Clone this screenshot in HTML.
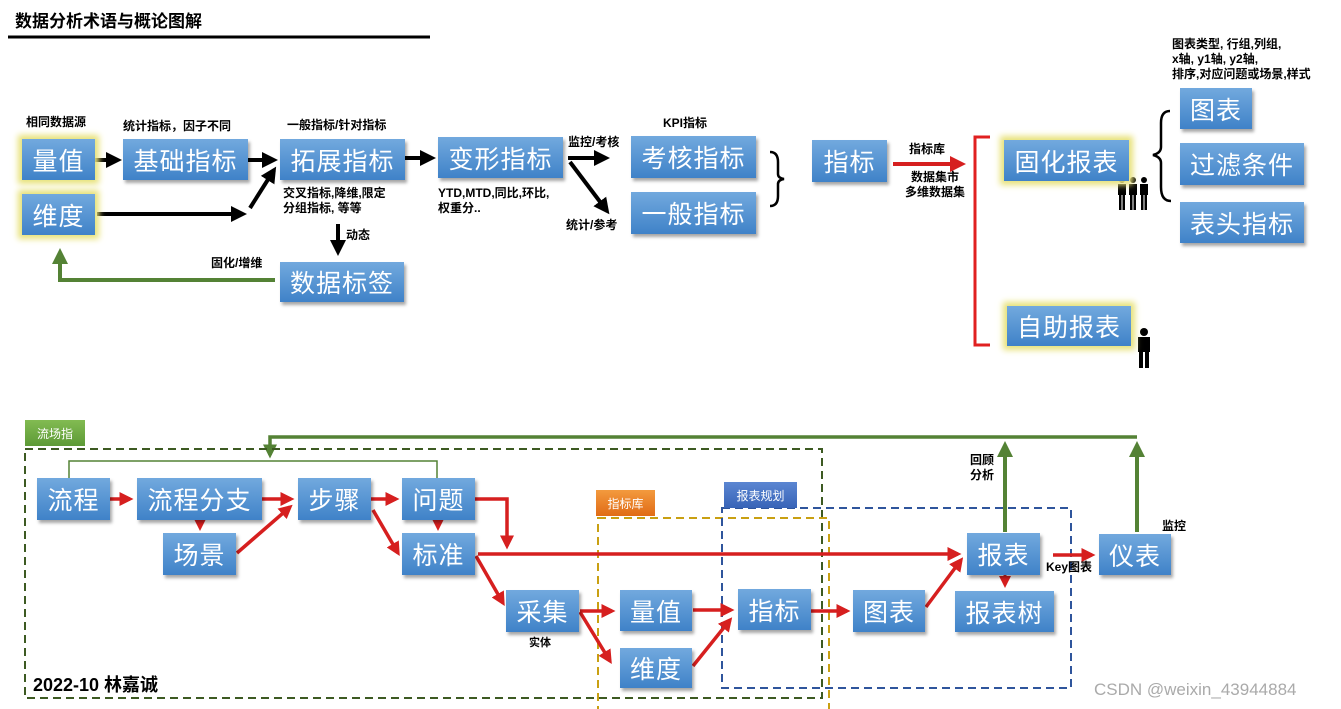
<!DOCTYPE html>
<html><head><meta charset="utf-8"><style>
body{margin:0;width:1341px;height:709px;background:#fff;position:relative;overflow:hidden;font-family:"Liberation Sans","Noto Sans CJK SC",sans-serif}
.b{position:absolute;background:linear-gradient(#72a9de,#3f82c8);color:#fff;display:flex;align-items:center;justify-content:center;font-size:25px;box-shadow:2px 3px 3px rgba(0,0,0,.35);box-sizing:border-box;letter-spacing:1px}
.g{box-shadow:0 0 6px 4px #e8e27a}
.t{position:absolute;font-size:12px;font-weight:bold;color:#000;line-height:15px;white-space:nowrap}
.tag{position:absolute;color:#fff;font-size:12px;display:flex;align-items:center;justify-content:center}
svg{position:absolute;left:0;top:0}
</style></head><body>
<svg width="1341" height="709">
<defs>
<marker id="k" markerWidth="4" markerHeight="4" refX="3" refY="2" orient="auto" markerUnits="strokeWidth"><path d="M0,0L4,2L0,4z" fill="#000"/></marker>
<marker id="r" markerWidth="4" markerHeight="4" refX="3" refY="2" orient="auto" markerUnits="strokeWidth"><path d="M0,0L4,2L0,4z" fill="#d61f1f"/></marker>
<marker id="gm" markerWidth="4" markerHeight="4" refX="3" refY="2" orient="auto" markerUnits="strokeWidth"><path d="M0,0L4,2L0,4z" fill="#548235"/></marker>
</defs>
<line x1="8" y1="37" x2="430" y2="37" stroke="#000" stroke-width="3"/>
<g stroke="#000" stroke-width="4" fill="none">
<line x1="95" y1="160" x2="118" y2="160" marker-end="url(#k)"/>
<line x1="248" y1="160" x2="274" y2="160" marker-end="url(#k)"/>
<line x1="97" y1="214" x2="243" y2="214" marker-end="url(#k)"/>
<line x1="250" y1="208" x2="274" y2="170" marker-end="url(#k)"/>
<line x1="405" y1="158" x2="432" y2="158" marker-end="url(#k)"/>
<line x1="338" y1="224" x2="338" y2="252" marker-end="url(#k)"/>
<line x1="568" y1="158" x2="606" y2="158" marker-end="url(#k)"/>
<line x1="570" y1="162" x2="607" y2="211" marker-end="url(#k)"/>
</g>
<path d="M770,152 q8,0 8,10 v12 q0,4 6,5 q-6,1 -6,5 v12 q0,10 -8,10" stroke="#000" stroke-width="2.5" fill="none"/>
<path d="M1170,111 q-9,0 -9,12 v24 q0,6 -8,8 q8,2 8,8 v24 q0,14 10,14" stroke="#000" stroke-width="2.5" fill="none"/>
<g stroke="#548235" stroke-width="4" fill="none">
<polyline points="275,280 60,280 60,252" marker-end="url(#gm)"/>
<polyline points="1137,437 270,437 270,455" stroke-width="3.5" marker-end="url(#gm)"/>
<line x1="1005" y1="532" x2="1005" y2="445" marker-end="url(#gm)"/>
<line x1="1137" y1="532" x2="1137" y2="445" marker-end="url(#gm)"/>
</g>
<polyline points="69,478 69,461 437,461 437,478" stroke="#548235" stroke-width="1.5" fill="none"/>
<line x1="893" y1="164" x2="962" y2="164" stroke="#d61f1f" stroke-width="4" marker-end="url(#r)"/>
<polyline points="990,137 975,137 975,345 990,345" stroke="#e02020" stroke-width="3" fill="none"/>
<rect x="25" y="449" width="797" height="249" fill="none" stroke="#3d5a22" stroke-width="2" stroke-dasharray="8,5"/>
<rect x="598" y="518" width="231" height="192" fill="none" stroke="#c9a012" stroke-width="2" stroke-dasharray="8,5"/>
<rect x="722" y="508" width="349" height="180" fill="none" stroke="#2f559c" stroke-width="2" stroke-dasharray="8,5"/>
<g stroke="#d61f1f" stroke-width="3.5" fill="none">
<line x1="110" y1="499" x2="130" y2="499" marker-end="url(#r)"/>
<line x1="200" y1="518" x2="200" y2="528" stroke-width="3" marker-end="url(#r)"/>
<line x1="262" y1="499" x2="291" y2="499" marker-end="url(#r)"/>
<line x1="237" y1="553" x2="290" y2="507" marker-end="url(#r)"/>
<line x1="371" y1="499" x2="396" y2="499" marker-end="url(#r)"/>
<line x1="373" y1="510" x2="398" y2="553" marker-end="url(#r)"/>
<line x1="438" y1="518" x2="438" y2="528" stroke-width="3" marker-end="url(#r)"/>
<polyline points="475,499 507,499 507,546" marker-end="url(#r)"/>
<line x1="478" y1="554" x2="958" y2="554" marker-end="url(#r)"/>
<line x1="476" y1="556" x2="503" y2="603" marker-end="url(#r)"/>
<line x1="580" y1="611" x2="612" y2="611" marker-end="url(#r)"/>
<line x1="580" y1="612" x2="610" y2="661" marker-end="url(#r)"/>
<line x1="693" y1="610" x2="731" y2="610" marker-end="url(#r)"/>
<line x1="693" y1="666" x2="730" y2="620" marker-end="url(#r)"/>
<line x1="811" y1="611" x2="847" y2="611" marker-end="url(#r)"/>
<line x1="926" y1="607" x2="961" y2="560" marker-end="url(#r)"/>
<line x1="1005" y1="575" x2="1005" y2="585" stroke-width="3" marker-end="url(#r)"/>
<line x1="1053" y1="555" x2="1092" y2="555" marker-end="url(#r)"/>
</g>
<g fill="#000">
<circle cx="1122" cy="180" r="3"/><rect x="1118" y="184" width="8" height="11"/><rect x="1119" y="194" width="2.5" height="16"/><rect x="1122.5" y="194" width="2.5" height="16"/>
<circle cx="1133" cy="180" r="3"/><rect x="1129" y="184" width="8" height="11"/><rect x="1130" y="194" width="2.5" height="16"/><rect x="1133.5" y="194" width="2.5" height="16"/>
<circle cx="1144" cy="180" r="3"/><rect x="1140" y="184" width="8" height="11"/><rect x="1141" y="194" width="2.5" height="16"/><rect x="1144.5" y="194" width="2.5" height="16"/>
<circle cx="1144" cy="332" r="4"/><rect x="1138" y="337" width="12" height="15"/><rect x="1139" y="350" width="4" height="18"/><rect x="1145" y="350" width="4" height="18"/>
</g>
</svg>
<div class="t" style="left:15px;top:12px;font-size:17px;line-height:20px">数据分析术语与概论图解</div>
<div class="b g" style="left:22px;top:139px;width:73px;height:41px">量值</div>
<div class="b g" style="left:22px;top:194px;width:73px;height:41px">维度</div>
<div class="b" style="left:123px;top:139px;width:125px;height:41px">基础指标</div>
<div class="b" style="left:280px;top:139px;width:125px;height:41px">拓展指标</div>
<div class="b" style="left:438px;top:137px;width:125px;height:41px">变形指标</div>
<div class="b" style="left:631px;top:136px;width:125px;height:42px">考核指标</div>
<div class="b" style="left:631px;top:192px;width:125px;height:42px">一般指标</div>
<div class="b" style="left:812px;top:140px;width:75px;height:42px">指标</div>
<div class="b" style="left:280px;top:262px;width:124px;height:40px">数据标签</div>
<div class="b g" style="left:1004px;top:140px;width:125px;height:41px">固化报表</div>
<div class="b g" style="left:1007px;top:306px;width:124px;height:40px">自助报表</div>
<div class="b" style="left:1180px;top:88px;width:72px;height:41px">图表</div>
<div class="b" style="left:1180px;top:143px;width:124px;height:42px">过滤条件</div>
<div class="b" style="left:1180px;top:202px;width:124px;height:41px">表头指标</div>
<div class="t" style="left:26px;top:115px">相同数据源</div>
<div class="t" style="left:123px;top:119px">统计指标，因子不同</div>
<div class="t" style="left:287px;top:118px">一般指标/针对指标</div>
<div class="t" style="left:283px;top:186px">交叉指标,降维,限定<br>分组指标, 等等</div>
<div class="t" style="left:346px;top:228px">动态</div>
<div class="t" style="left:211px;top:256px">固化/增维</div>
<div class="t" style="left:438px;top:186px">YTD,MTD,同比,环比,<br>权重分..</div>
<div class="t" style="left:568px;top:135px">监控/考核</div>
<div class="t" style="left:566px;top:218px">统计/参考</div>
<div class="t" style="left:663px;top:116px">KPI指标</div>
<div class="t" style="left:909px;top:142px">指标库</div>
<div class="t" style="left:905px;top:170px;text-align:center">数据集市<br>多维数据集</div>
<div class="t" style="left:1172px;top:37px">图表类型, 行组,列组,<br>x轴, y1轴, y2轴,<br>排序,对应问题或场景,样式</div>
<div class="tag" style="left:25px;top:420px;width:60px;height:26px;background:linear-gradient(#82bb52,#5d9a36)">流场指</div>
<div class="tag" style="left:596px;top:490px;width:59px;height:26px;background:linear-gradient(#f39a3e,#e06b16)">指标库</div>
<div class="tag" style="left:724px;top:482px;width:73px;height:26px;background:linear-gradient(#5b86d2,#3864b8)">报表规划</div>
<div class="b" style="left:37px;top:478px;width:73px;height:42px">流程</div>
<div class="b" style="left:137px;top:478px;width:125px;height:42px">流程分支</div>
<div class="b" style="left:163px;top:533px;width:73px;height:42px">场景</div>
<div class="b" style="left:298px;top:478px;width:73px;height:42px">步骤</div>
<div class="b" style="left:402px;top:478px;width:73px;height:42px">问题</div>
<div class="b" style="left:402px;top:533px;width:73px;height:42px">标准</div>
<div class="b" style="left:506px;top:590px;width:73px;height:42px">采集</div>
<div class="b" style="left:620px;top:590px;width:72px;height:41px">量值</div>
<div class="b" style="left:620px;top:648px;width:72px;height:40px">维度</div>
<div class="b" style="left:738px;top:589px;width:73px;height:41px">指标</div>
<div class="b" style="left:853px;top:590px;width:72px;height:42px">图表</div>
<div class="b" style="left:967px;top:533px;width:73px;height:42px">报表</div>
<div class="b" style="left:955px;top:591px;width:99px;height:41px">报表树</div>
<div class="b" style="left:1099px;top:534px;width:72px;height:41px">仪表</div>
<div class="t" style="left:529px;top:636px;font-size:11px">实体</div>
<div class="t" style="left:970px;top:453px">回顾<br>分析</div>
<div class="t" style="left:1046px;top:560px">Key图表</div>
<div class="t" style="left:1162px;top:519px">监控</div>
<div class="t" style="left:33px;top:674px;font-size:18px;line-height:22px">2022-10 林嘉诚</div>
<div style="position:absolute;left:1094px;top:680px;font-size:17px;color:#aaa">CSDN @weixin_43944884</div>
</body></html>
